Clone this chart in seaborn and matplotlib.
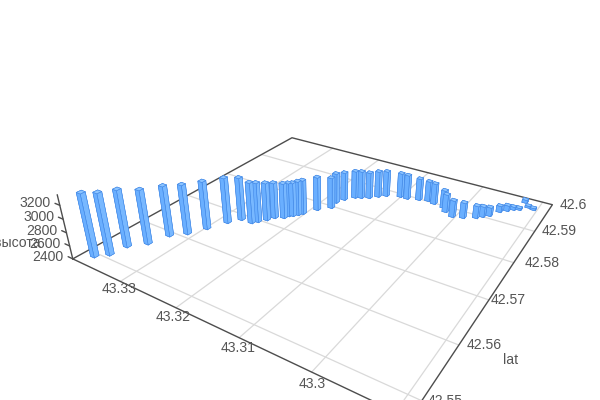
import numpy as np
import pandas as pd
import matplotlib
matplotlib.use("Agg")
import matplotlib.pyplot as plt
import seaborn as sns
from mpl_toolkits.mplot3d import proj3d

# Track points
lon = [43.3377, 43.3363, 43.3359, 43.334, 43.333, 43.3312, 43.3298, 43.3284, 43.3272, 43.3253, 43.3247, 43.3239, 43.3233, 43.3221, 43.3218, 43.3213, 43.3208, 43.3204, 43.3192, 43.3177, 43.318, 43.3174, 43.3163, 43.3154, 43.3143, 43.3133, 43.3123, 43.3102, 43.309, 43.3072, 43.3058, 43.3046, 43.3028, 43.302, 43.3005, 43.299, 43.2973, 43.2966, 43.2958, 43.2949, 43.294, 43.2933, 43.2925, 43.2924, 43.2915, 43.2906]
lat = [42.5494, 42.5509, 42.5537, 42.5559, 42.5592, 42.5611, 42.5638, 42.5669, 42.5688, 42.5689, 42.5697, 42.5709, 42.5721, 42.5729, 42.5738, 42.5742, 42.5749, 42.5756, 42.5779, 42.5797, 42.5816, 42.5832, 42.5848, 42.5853, 42.586, 42.5872, 42.5882, 42.5892, 42.5892, 42.5899, 42.5904, 42.59, 42.5896, 42.5885, 42.5876, 42.5882, 42.5893, 42.5902, 42.5911, 42.5932, 42.5942, 42.5951, 42.5956, 42.5985, 42.5971, 42.5968]
height = [3350, 3330, 3270, 3230, 3180, 3170, 3150, 3120, 3080, 3050, 3030, 3000, 2970, 2960, 2940, 2940, 2950, 2950, 2940, 2900, 2890, 2860, 2850, 2850, 2830, 2830, 2820, 2800, 2800, 2760, 2730, 2740, 2690, 2690, 2670, 2650, 2600, 2570, 2540, 2500, 2490, 2450, 2430, 2450, 2430, 2430]

lon_ticks = [43.33, 43.32, 43.31, 43.3, 43.29]
lat_ticks = [42.59, 42.58, 42.57, 42.56, 42.55]
z_ticks = [2400, 2600, 2800, 3000, 3200]
lon_labels = ["43.33", "43.32", "43.31", "43.3"]
lat_labels = ["42.59", "42.58", "42.57", "42.56", "42.55"]

lon_min, lon_max = 43.28846, 43.33964
lat_min, lat_max = 42.54722, 42.6
z_min, z_max = 2400, 3350

sns.set_theme(style="white")
plt.rcParams["font.family"] = ["Liberation Sans", "DejaVu Sans"]

df = pd.DataFrame({"lon": lon, "lat": lat, "height": height})
# one colour per face: bottom, top, then the four sides
face_colors = sns.color_palette(["#6aafff", "#8cc4ff", "#6aafff", "#6aafff", "#78b8ff", "#78b8ff"])

fig = plt.figure(figsize=(6, 4), dpi=100)
ax = fig.add_axes([78.33 / 600, -52.46 / 400, 491.21 / 600, 491.21 / 400], projection="3d")
ax.computed_zorder = False
ax.set_axis_off()
ax.patch.set_alpha(0)

# floor grid
for t in lon_ticks:
    ax.plot([t, t], [lat_min, lat_max], [z_min, z_min], color="#d9d9d9", lw=0.9, zorder=1, clip_on=False)
for t in lat_ticks:
    ax.plot([lon_min, lon_max], [t, t], [z_min, z_min], color="#d9d9d9", lw=0.9, zorder=1, clip_on=False)

# box edges and the height axis
edge_x = [lon_max, lon_max, lon_min, lon_min, lon_max]
edge_y = [lat_min, lat_max, lat_max, lat_min, lat_min]
ax.plot(edge_x, edge_y, [z_min] * 5, color="#4d4d4d", lw=1, zorder=2, clip_on=False)
ax.plot([lon_max, lon_max], [lat_min, lat_min], [z_min, z_max], color="#4d4d4d", lw=1, zorder=2, clip_on=False)
for t in z_ticks:
    ax.plot([lon_max, lon_max + 0.001], [lat_min, lat_min], [t, t], color="#4d4d4d", lw=1, zorder=2, clip_on=False)

size = 0.0008
bars = ax.bar3d(df["lon"] - size / 2, df["lat"] - size / 2, [z_min] * len(df), size, size, df["height"] - z_min,
                color=face_colors * len(df), edgecolor="#4288e6", linewidth=0.4, shade=False, zorder=3)
bars.set_clip_on(False)

ax.view_init(28.435, -57.282, roll=0)
ax.set_proj_type("persp", focal_length=0.229)
ax.set_box_aspect((1, 0.9999, 0.1946))
ax.set_xlim(lon_max, lon_min)
ax.set_ylim(lat_min, lat_max)
ax.set_zlim(z_min, z_max)

# tick labels sit at a fixed pixel offset from the projected tick
M = ax.get_proj()
def put_label(text, x, y, z, dx, dy, ha):
    u, v, _ = proj3d.proj_transform(x, y, z, M)
    ax.annotate(text, xy=(u, v), xytext=(dx, dy), textcoords="offset pixels", ha=ha, va="center",
                fontsize=10.1, color="#555555", annotation_clip=False)

lon_offsets = [(-1, -8), (-3, -9), (-1, -10), (1, -12)]
for t, s, off in zip(lon_ticks, lon_labels, lon_offsets):
    put_label(s, t, lat_min, z_min, off[0], off[1], "center")
lat_offsets = [25, 28, 19, 25, 23]
for t, s, off in zip(lat_ticks, lat_labels, lat_offsets):
    put_label(s, lon_min, t, z_min, off, 0, "center")
put_label("42.6", lon_min, lat_max, z_min, 21, 0, "center")
for t in z_ticks:
    put_label(str(t), lon_max, lat_min, t, -9, 2, "right")

fig.text(511 / 600, 1 - 360 / 400, "lat", ha="center", va="center", fontsize=10.1, color="#555555")
fig.text(41 / 600, 1 - 243 / 400, "высота", ha="right", va="center", fontsize=10.1, color="#555555")

fig.savefig("out.png", dpi=100)
